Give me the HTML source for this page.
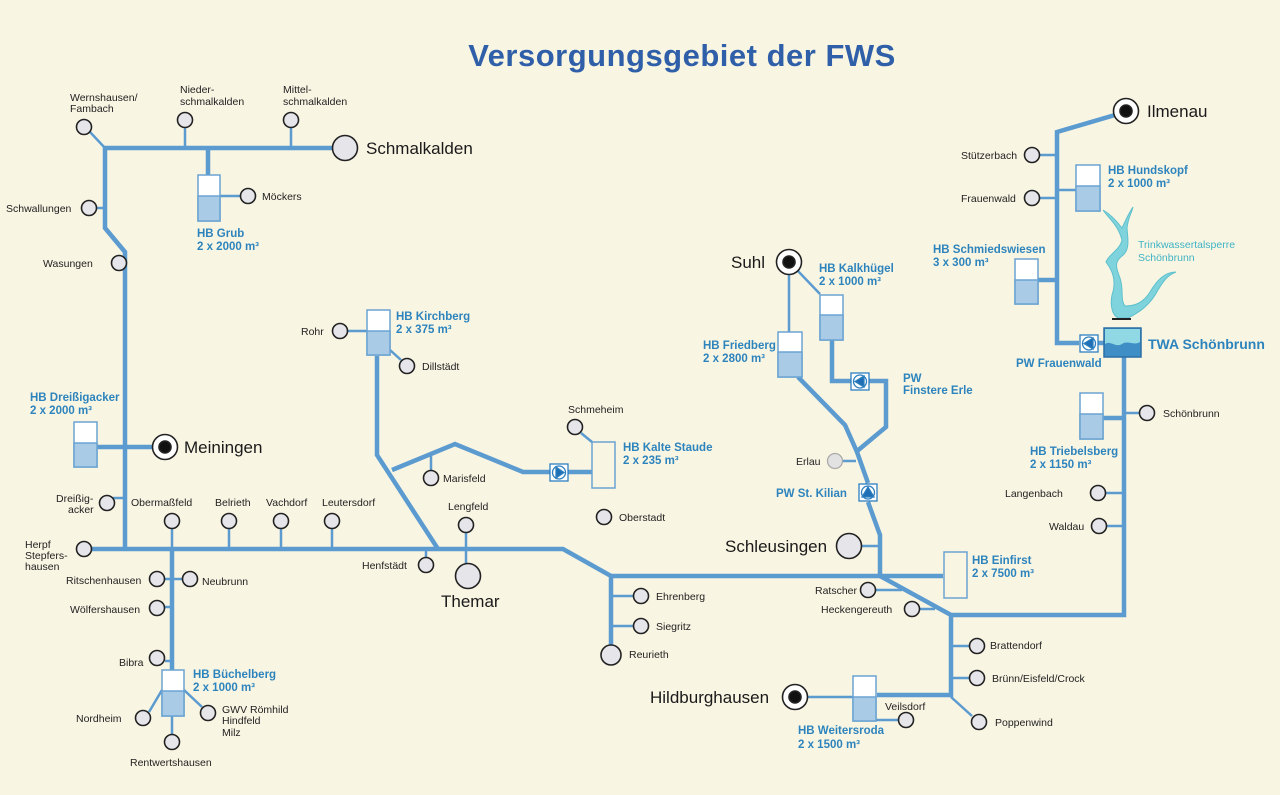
<!DOCTYPE html>
<html><head><meta charset="utf-8"><style>
html,body{margin:0;padding:0;background:#f9f5e3;}
svg{display:block;}
text{font-family:"Liberation Sans",sans-serif;}
.s{font-size:10.5px;fill:#222;}
.b{font-size:17px;fill:#1a1a1a;}
.h{font-size:11.5px;fill:#2d84bd;font-weight:bold;}
</style></head><body>
<svg width="1280" height="795" viewBox="0 0 1280 795" xmlns="http://www.w3.org/2000/svg">
<rect width="1280" height="795" fill="#f9f5e3"/>
<text x="682" y="66" text-anchor="middle" font-size="31" font-weight="bold" fill="#2f5fa8" style="letter-spacing:0.5px">Versorgungsgebiet der FWS</text>

<g fill="none" stroke="#5b9bd0" stroke-linejoin="miter">
<!-- thick main lines -->
<g stroke-width="4.5">
<polyline points="345,148 105,148 105,228 125,252 125,549"/>
<polyline points="84,549 563,549 611,576 880,576"/>
<line x1="880" y1="576" x2="943" y2="576"/>
<polyline points="880,576 951,615 1124,615 1124,356"/>
<polyline points="951,615 951,695 877,695"/>
<line x1="208" y1="148" x2="208" y2="175"/>
<line x1="172" y1="549" x2="172" y2="670"/>
<polyline points="377,356 377,455 438,549"/>
<polyline points="392,470 455,444 523,472 550,472"/>
<line x1="567" y1="472" x2="592" y2="472"/>
<line x1="611" y1="576" x2="611" y2="645"/>
<polyline points="798,377 845,425 857,452 868,483"/>
<polyline points="868,502 880,535 880,576"/>
<polyline points="832,340 832,381 851,381"/>
<polyline points="869,381 886,381 886,427 856,452"/>
<polyline points="1115,115 1057,132 1057,343 1079,343"/>
<line x1="1097" y1="343" x2="1104" y2="343"/>
<line x1="125" y1="447" x2="152" y2="447"/>
<line x1="97" y1="447" x2="125" y2="447"/>
<line x1="1037" y1="280" x2="1057" y2="280"/>
<line x1="1100" y1="418" x2="1124" y2="418"/>
</g>
<!-- thin branches -->
<g stroke-width="2.5">
<line x1="90" y1="132" x2="105" y2="148"/>
<line x1="185" y1="128" x2="185" y2="148"/>
<line x1="291" y1="128" x2="291" y2="148"/>
<line x1="220" y1="196" x2="240" y2="196"/>
<line x1="97" y1="208" x2="105" y2="208"/>
<line x1="127" y1="263" x2="125" y2="263"/>
<line x1="113" y1="498" x2="125" y2="498"/>
<line x1="172" y1="528" x2="172" y2="549"/>
<line x1="229" y1="529" x2="229" y2="549"/>
<line x1="281" y1="529" x2="281" y2="549"/>
<line x1="332" y1="529" x2="332" y2="549"/>
<line x1="165" y1="579" x2="182" y2="579"/>
<line x1="165" y1="607" x2="172" y2="607"/>
<line x1="165" y1="661" x2="172" y2="661"/>
<line x1="162" y1="690" x2="149" y2="712"/>
<line x1="184" y1="690" x2="202" y2="707"/>
<line x1="172" y1="716" x2="172" y2="734"/>
<line x1="348" y1="331" x2="367" y2="331"/>
<line x1="390" y1="350" x2="401" y2="360"/>
<line x1="431" y1="455" x2="431" y2="470"/>
<line x1="426" y1="557" x2="426" y2="549"/>
<line x1="466" y1="533" x2="466" y2="564"/>
<line x1="581" y1="433" x2="592" y2="442"/>
<line x1="611" y1="596" x2="633" y2="596"/>
<line x1="611" y1="626" x2="633" y2="626"/>
<line x1="789" y1="275" x2="789" y2="332"/>
<line x1="797" y1="270" x2="820" y2="294"/>
<line x1="843" y1="461" x2="856" y2="461"/>
<line x1="862" y1="546" x2="880" y2="546"/>
<line x1="876" y1="590" x2="902" y2="590"/>
<line x1="920" y1="609" x2="935" y2="609"/>
<line x1="951" y1="646" x2="969" y2="646"/>
<line x1="951" y1="678" x2="969" y2="678"/>
<line x1="951" y1="697" x2="972" y2="716"/>
<line x1="808" y1="697" x2="853" y2="697"/>
<line x1="876" y1="720" x2="898" y2="720"/>
<line x1="1040" y1="155" x2="1057" y2="155"/>
<line x1="1040" y1="198" x2="1057" y2="198"/>
<line x1="1057" y1="190" x2="1076" y2="190"/>
<line x1="1124" y1="413" x2="1139" y2="413"/>
<line x1="1106" y1="493" x2="1124" y2="493"/>
<line x1="1107" y1="526" x2="1124" y2="526"/>
</g>
</g>

<!-- tanks -->
<g stroke="#6aa3d2" stroke-width="1.5">
<g id="t">
</g>
</g>
<g stroke="#6aa3d2" stroke-width="1.5">
<!-- filled tanks: x,y,w=23,h=46 -->
<rect x="198" y="175" width="22" height="46" fill="#fff"/><rect x="198" y="196" width="22" height="25" fill="#a9cbe6"/>
<rect x="74" y="422" width="23" height="45" fill="#fff"/><rect x="74" y="443" width="23" height="24" fill="#a9cbe6"/>
<rect x="162" y="670" width="22" height="46" fill="#fff"/><rect x="162" y="691" width="22" height="25" fill="#a9cbe6"/>
<rect x="367" y="310" width="23" height="45" fill="#fff"/><rect x="367" y="331" width="23" height="24" fill="#a9cbe6"/>
<rect x="592" y="442" width="23" height="46" fill="#f9f5e3"/>
<rect x="778" y="332" width="24" height="45" fill="#fff"/><rect x="778" y="352" width="24" height="25" fill="#a9cbe6"/>
<rect x="820" y="295" width="23" height="45" fill="#fff"/><rect x="820" y="315" width="23" height="25" fill="#a9cbe6"/>
<rect x="944" y="552" width="23" height="46" fill="#f9f5e3"/>
<rect x="853" y="676" width="23" height="45" fill="#fff"/><rect x="853" y="697" width="23" height="24" fill="#a9cbe6"/>
<rect x="1076" y="165" width="24" height="46" fill="#fff"/><rect x="1076" y="186" width="24" height="25" fill="#a9cbe6"/>
<rect x="1015" y="259" width="23" height="45" fill="#fff"/><rect x="1015" y="280" width="23" height="24" fill="#a9cbe6"/>
<rect x="1080" y="393" width="23" height="46" fill="#fff"/><rect x="1080" y="414" width="23" height="25" fill="#a9cbe6"/>
</g>

<!-- river -->
<path d="M1103,210 C1110,220 1118,225 1122,240 C1120,250 1108,255 1106,262 C1112,270 1117,280 1112,295 C1110,305 1112,315 1118,318 L1128,318 C1140,312 1150,305 1158,290 C1164,280 1168,275 1176,272 C1165,272 1157,280 1150,292 C1143,303 1135,306 1125,306 C1120,300 1124,290 1120,278 C1116,268 1114,262 1122,256 C1130,250 1128,240 1127,228 C1128,218 1132,212 1133,207 C1128,214 1125,222 1122,228 C1116,220 1110,214 1103,210 Z" fill="#7ed3dc" stroke="#5fc0cc" stroke-width="1"/>
<line x1="1112" y1="319" x2="1131" y2="319" stroke="#222" stroke-width="2"/>

<!-- TWA -->
<rect x="1104" y="328" width="37" height="29" fill="#3f8fc6" stroke="#2a6fa5" stroke-width="1.5"/>
<path d="M1105,329 H1140 V342 C1134,346 1128,340 1122,344 C1116,348 1110,340 1105,344 Z" fill="#8fd8e4"/>

<!-- pumps -->
<g stroke="#2d7fbf" stroke-width="1.3">
<rect x="550" y="464" width="18" height="17" fill="#fff"/><circle cx="559" cy="472.5" r="6.5" fill="#fff"/><path d="M556,467 L564,472.5 L556,478 Z" fill="#1e6fb5"/>
<rect x="851" y="373" width="18" height="17" fill="#fff"/><circle cx="860" cy="381.5" r="6.5" fill="#fff"/><path d="M864,376 L855,381.5 L864,387 Z" fill="#1e6fb5"/>
<rect x="859" y="484" width="18" height="17" fill="#fff"/><circle cx="868" cy="492.5" r="6.5" fill="#fff"/><path d="M862,497 L868,487 L874,497 Z" fill="#1e6fb5"/>
<rect x="1080" y="335" width="18" height="17" fill="#fff"/><circle cx="1089" cy="343.5" r="6.5" fill="#fff"/><path d="M1093,338 L1084,343.5 L1093,349 Z" fill="#1e6fb5"/>
</g>

<!-- nodes -->
<g fill="#e6e6ea" stroke="#222" stroke-width="1.6">
<circle cx="84" cy="127" r="7.5"/><circle cx="185" cy="120" r="7.5"/><circle cx="291" cy="120" r="7.5"/>
<circle cx="345" cy="148" r="12.5"/>
<circle cx="248" cy="196" r="7.5"/><circle cx="89" cy="208" r="7.5"/><circle cx="119" cy="263" r="7.5"/>
<circle cx="107" cy="503" r="7.5"/><circle cx="84" cy="549" r="7.5"/>
<circle cx="172" cy="521" r="7.5"/><circle cx="229" cy="521" r="7.5"/><circle cx="281" cy="521" r="7.5"/><circle cx="332" cy="521" r="7.5"/>
<circle cx="157" cy="579" r="7.5"/><circle cx="190" cy="579" r="7.5"/><circle cx="157" cy="608" r="7.5"/><circle cx="157" cy="658" r="7.5"/>
<circle cx="143" cy="718" r="7.5"/><circle cx="208" cy="713" r="7.5"/><circle cx="172" cy="742" r="7.5"/>
<circle cx="340" cy="331" r="7.5"/><circle cx="407" cy="366" r="7.5"/>
<circle cx="431" cy="478" r="7.5"/><circle cx="466" cy="525" r="7.5"/><circle cx="426" cy="565" r="7.5"/>
<circle cx="468" cy="576" r="12.5"/>
<circle cx="575" cy="427" r="7.5"/><circle cx="604" cy="517" r="7.5"/>
<circle cx="641" cy="596" r="7.5"/><circle cx="641" cy="626" r="7.5"/><circle cx="611" cy="655" r="10"/>
<circle cx="849" cy="546" r="12.5"/>
<circle cx="868" cy="590" r="7.5"/><circle cx="912" cy="609" r="7.5"/>
<circle cx="977" cy="646" r="7.5"/><circle cx="977" cy="678" r="7.5"/><circle cx="979" cy="722" r="7.5"/>
<circle cx="906" cy="720" r="7.5"/>
<circle cx="1032" cy="155" r="7.5"/><circle cx="1032" cy="198" r="7.5"/>
<circle cx="1147" cy="413" r="7.5"/><circle cx="1098" cy="493" r="7.5"/><circle cx="1099" cy="526" r="7.5"/>
</g>
<circle cx="835" cy="461" r="7.5" fill="#e2e2e2" stroke="#aaa" stroke-width="1.3"/>
<g stroke="#222" stroke-width="1.6">
<circle cx="165" cy="447" r="12.5" fill="#fff"/><circle cx="165" cy="447" r="6" fill="#111"/>
<circle cx="789" cy="262" r="12.5" fill="#fff"/><circle cx="789" cy="262" r="6" fill="#111"/>
<circle cx="795" cy="697" r="12.5" fill="#fff"/><circle cx="795" cy="697" r="6" fill="#111"/>
<circle cx="1126" cy="111" r="12.5" fill="#fff"/><circle cx="1126" cy="111" r="6" fill="#111"/>
</g>

<!-- labels -->
<text class="s" x="70" y="101">Wernshausen/</text><text class="s" x="70" y="112">Fambach</text>
<text class="s" x="180" y="93">Nieder-</text><text class="s" x="180" y="105">schmalkalden</text>
<text class="s" x="283" y="93">Mittel-</text><text class="s" x="283" y="105">schmalkalden</text>
<text class="b" x="366" y="154">Schmalkalden</text>
<text class="s" x="262" y="200">Möckers</text>
<text class="h" x="197" y="237">HB Grub</text><text class="h" x="197" y="250">2 x 2000 m³</text>
<text class="s" x="6" y="212">Schwallungen</text>
<text class="s" x="43" y="267">Wasungen</text>
<text class="h" x="30" y="401">HB Dreißigacker</text><text class="h" x="30" y="414">2 x 2000 m³</text>
<text class="b" x="184" y="453">Meiningen</text>
<text class="s" x="56" y="502">Dreißig-</text><text class="s" x="68" y="513">acker</text>
<text class="s" x="131" y="506">Obermaßfeld</text>
<text class="s" x="215" y="506">Belrieth</text>
<text class="s" x="266" y="506">Vachdorf</text>
<text class="s" x="322" y="506">Leutersdorf</text>
<text class="s" x="25" y="548">Herpf</text><text class="s" x="25" y="559">Stepfers-</text><text class="s" x="25" y="570">hausen</text>
<text class="s" x="66" y="584">Ritschenhausen</text>
<text class="s" x="202" y="585">Neubrunn</text>
<text class="s" x="70" y="613">Wölfershausen</text>
<text class="s" x="119" y="666">Bibra</text>
<text class="h" x="193" y="678">HB Büchelberg</text><text class="h" x="193" y="691">2 x 1000 m³</text>
<text class="s" x="76" y="722">Nordheim</text>
<text class="s" x="222" y="713">GWV Römhild</text><text class="s" x="222" y="724">Hindfeld</text><text class="s" x="222" y="736">Milz</text>
<text class="s" x="130" y="766">Rentwertshausen</text>
<text class="s" x="301" y="335">Rohr</text>
<text class="h" x="396" y="320">HB Kirchberg</text><text class="h" x="396" y="333">2 x 375 m³</text>
<text class="s" x="422" y="370">Dillstädt</text>
<text class="s" x="443" y="482">Marisfeld</text>
<text class="s" x="448" y="510">Lengfeld</text>
<text class="s" x="362" y="569">Henfstädt</text>
<text class="b" x="441" y="607">Themar</text>
<text class="s" x="568" y="413">Schmeheim</text>
<text class="h" x="623" y="451">HB Kalte Staude</text><text class="h" x="623" y="464">2 x 235 m³</text>
<text class="s" x="619" y="521">Oberstadt</text>
<text class="s" x="656" y="600">Ehrenberg</text>
<text class="s" x="656" y="630">Siegritz</text>
<text class="s" x="629" y="658">Reurieth</text>
<text class="b" x="731" y="268">Suhl</text>
<text class="h" x="819" y="272">HB Kalkhügel</text><text class="h" x="819" y="285">2 x 1000 m³</text>
<text class="h" x="703" y="349">HB Friedberg</text><text class="h" x="703" y="362">2 x 2800 m³</text>
<text class="h" x="903" y="382">PW</text><text class="h" x="903" y="394">Finstere Erle</text>
<text class="s" x="796" y="465">Erlau</text>
<text class="h" x="776" y="497">PW St. Kilian</text>
<text class="b" x="725" y="552">Schleusingen</text>
<text class="h" x="972" y="564">HB Einfirst</text><text class="h" x="972" y="577">2 x 7500 m³</text>
<text class="s" x="815" y="594">Ratscher</text>
<text class="s" x="821" y="613">Heckengereuth</text>
<text class="s" x="990" y="649">Brattendorf</text>
<text class="s" x="992" y="682">Brünn/Eisfeld/Crock</text>
<text class="s" x="995" y="726">Poppenwind</text>
<text class="b" x="650" y="703">Hildburghausen</text>
<text class="s" x="885" y="710">Veilsdorf</text>
<text class="h" x="798" y="734">HB Weitersroda</text><text class="h" x="798" y="748">2 x 1500 m³</text>
<text class="b" x="1147" y="117">Ilmenau</text>
<text class="s" x="961" y="159">Stützerbach</text>
<text class="s" x="961" y="202">Frauenwald</text>
<text class="h" x="1108" y="174">HB Hundskopf</text><text class="h" x="1108" y="187">2 x 1000 m³</text>
<text class="h" x="933" y="253">HB Schmiedswiesen</text><text class="h" x="933" y="266">3 x 300 m³</text>
<text x="1138" y="248" font-size="10.5" fill="#3fb3c4">Trinkwassertalsperre</text><text x="1138" y="261" font-size="10.5" fill="#3fb3c4">Schönbrunn</text>
<text x="1148" y="349" font-size="14" font-weight="bold" fill="#2d84bd">TWA Schönbrunn</text>
<text class="h" x="1016" y="367">PW Frauenwald</text>
<text class="h" x="1030" y="455">HB Triebelsberg</text><text class="h" x="1030" y="468">2 x 1150 m³</text>
<text class="s" x="1163" y="417">Schönbrunn</text>
<text class="s" x="1005" y="497">Langenbach</text>
<text class="s" x="1049" y="530">Waldau</text>
</svg>
</body></html>
